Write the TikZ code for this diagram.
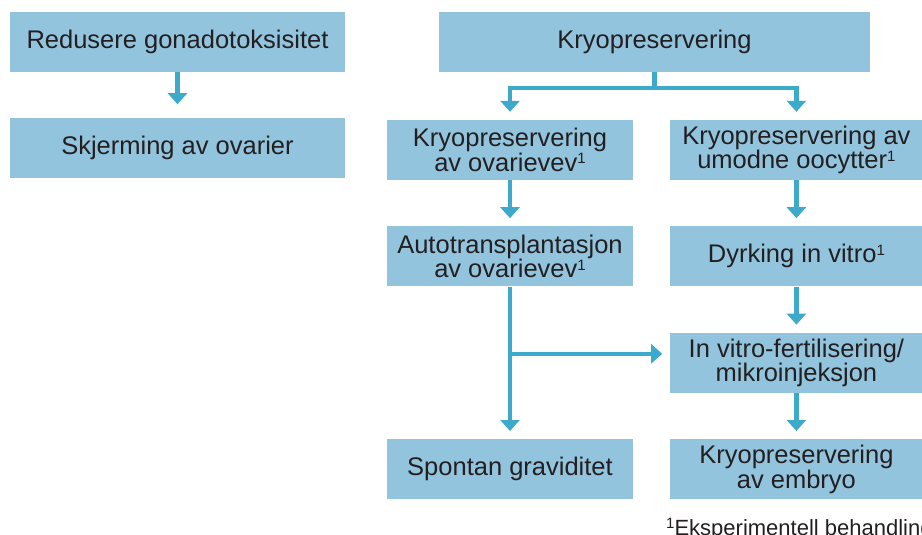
\documentclass[tikz,border=0pt]{standalone}
\usepackage{fontspec}
\setmainfont{Liberation Sans}
\usetikzlibrary{positioning, arrows.meta}
\definecolor{boxblue}{RGB}{147,196,222}
\definecolor{arrowblue}{RGB}{62,170,203}
\definecolor{textdark}{RGB}{35,31,32}
\newcommand{\fnmark}{\raisebox{0.3em}{\fontsize{15}{15}\selectfont 1}}

\begin{document}
\begin{tikzpicture}[
    x=1pt, y=-1pt,
    node distance=46pt and 37pt,
    box/.style={
        rectangle,
        fill=boxblue,
        text=textdark,
        minimum height=60pt,
        inner sep=0pt,
        align=center,
        font=\fontsize{25.5}{24.5}\selectfont
    },
    boxwide/.style={
        box,
        minimum width=335pt
    },
    boxleft/.style={
        box,
        minimum width=246pt
    },
    boxright/.style={
        box,
        minimum width=252pt
    },
    arrow/.style={
        -{Triangle[width=19pt, length=11pt]},
        line width=4.5pt,
        color=arrowblue,
        shorten >=8pt
    }
]
\clip (0,0) rectangle (922,535);

% Nodes
\node[boxwide] (red) at (177.5,42) {Redusere gonadotoksisitet};
\node[boxwide, below=of red] (skj) {Skjerming av ovarier};
\node[box, minimum width=431pt] (kryo) at (654.5,42) {Kryopreservering};
\node[boxleft] (ovv) at (510,150) {Kryopreservering\\av ovarievev\fnmark};
\node[boxright, right=of ovv] (umo) {Kryopreservering av\\umodne oocytter\fnmark};
\node[boxleft, below=of ovv] (auto) {Autotransplantasjon\\av ovarievev\fnmark};
\node[boxright, below=of umo] (dyrk) {Dyrking in vitro\fnmark};
\node[boxright, below=of dyrk] (ivf) {In vitro-fertilisering/\\mikroinjeksjon};
\node[boxright, below=of ivf] (emb) {Kryopreservering\\av embryo};
\node[boxleft] (spon) at (auto |- emb) {Spontan graviditet};

% Footnote
\node[anchor=base west, inner sep=0pt, text=textdark, font=\fontsize{22}{22}\selectfont] (note) at (666,535) {\fnmark Eksperimentell behandling};

% Arrows
\draw[arrow, shorten >=14pt] (red) -- (skj);
\draw[arrow] (kryo.south) -- ++(0,16) -| (ovv.north);
\draw[arrow] (kryo.south) -- ++(0,16) -| (umo.north);
\draw[arrow] (ovv) -- (auto);
\draw[arrow] (auto) -- (spon);
\draw[arrow] (umo) -- (dyrk);
\draw[arrow] (dyrk) -- (ivf);
\draw[arrow] (ivf) -- (emb);

% Branch into IVF
\coordinate (fork) at ([yshift=9pt]auto.south |- ivf.west);
\draw[arrow] (fork) -- (fork -| ivf.west);

\end{tikzpicture}
\end{document}
